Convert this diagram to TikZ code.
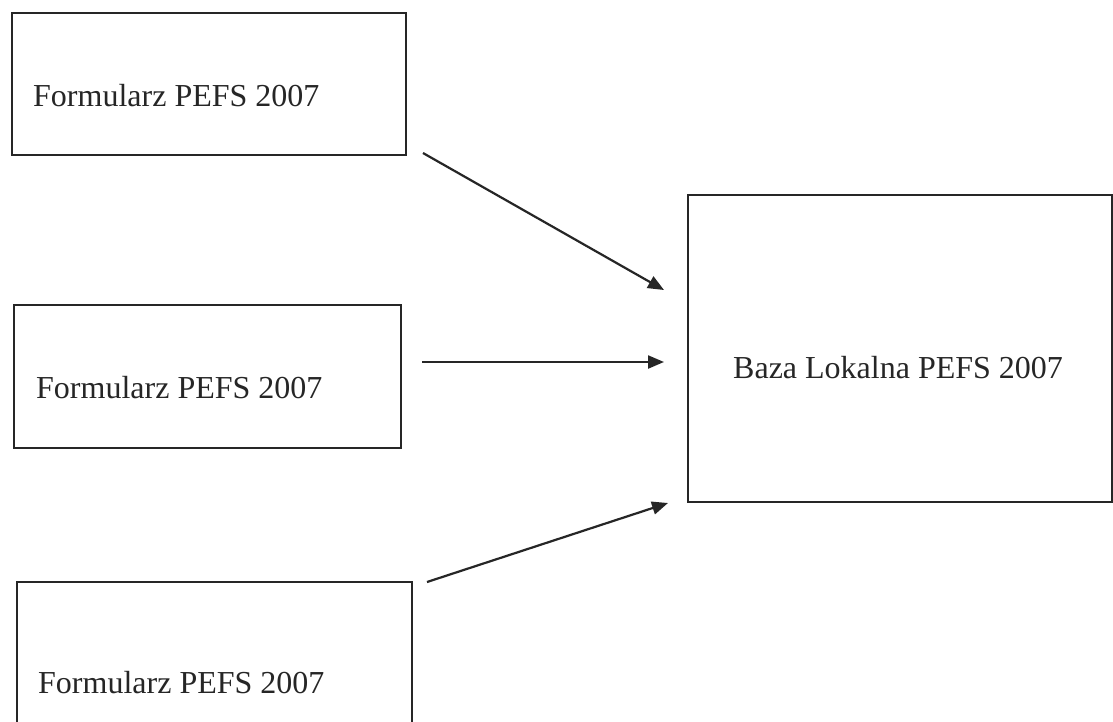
\documentclass[tikz,border=0pt]{standalone}
\usepackage{fontspec}
\setmainfont{Liberation Serif}
\usetikzlibrary{arrows.meta}
\definecolor{ink}{HTML}{262626}
\begin{document}
\begin{tikzpicture}[x=1pt,y=-1pt,
  box/.style={draw=ink, line width=2.2pt, rectangle, inner sep=0pt, outer sep=0pt, anchor=north west},
  lbl/.style={anchor=base west, inner sep=0pt, text=ink, font=\fontsize{32}{38}\selectfont},
  conn/.style={draw=ink, line width=2.2pt, -{Triangle[length=16pt,width=13pt]}}]
\useasboundingbox (0,0) rectangle (1113,721);
\fill[white] (0,0) rectangle (1113,721);
\node[box, minimum width=394pt, minimum height=142pt] (b1) at (12,13) {};
\node[box, minimum width=387pt, minimum height=143pt] (b2) at (14,305) {};
\node[box, minimum width=395pt, minimum height=160pt] (b3) at (17,582) {};
\node[box, minimum width=424pt, minimum height=307pt] (b4) at (688,195) {};
\node[lbl] (t1) at (33,106) {Formularz PEFS 2007};
\node[lbl] (t2) at (36,398) {Formularz PEFS 2007};
\node[lbl] (t3) at (38,693) {Formularz PEFS 2007};
\node[lbl] (t4) at (733,378) {Baza Lokalna PEFS 2007};
\coordinate (a1s) at (423,153);
\coordinate (a1e) at (664,290);
\coordinate (a2s) at (422,362);
\coordinate (a2e) at (664,362);
\coordinate (a3s) at (427,582);
\coordinate (a3e) at (668,503);
\draw[conn] (a1s) -- (a1e);
\draw[conn] (a2s) -- (a2e);
\draw[conn] (a3s) -- (a3e);
\end{tikzpicture}
\end{document}
